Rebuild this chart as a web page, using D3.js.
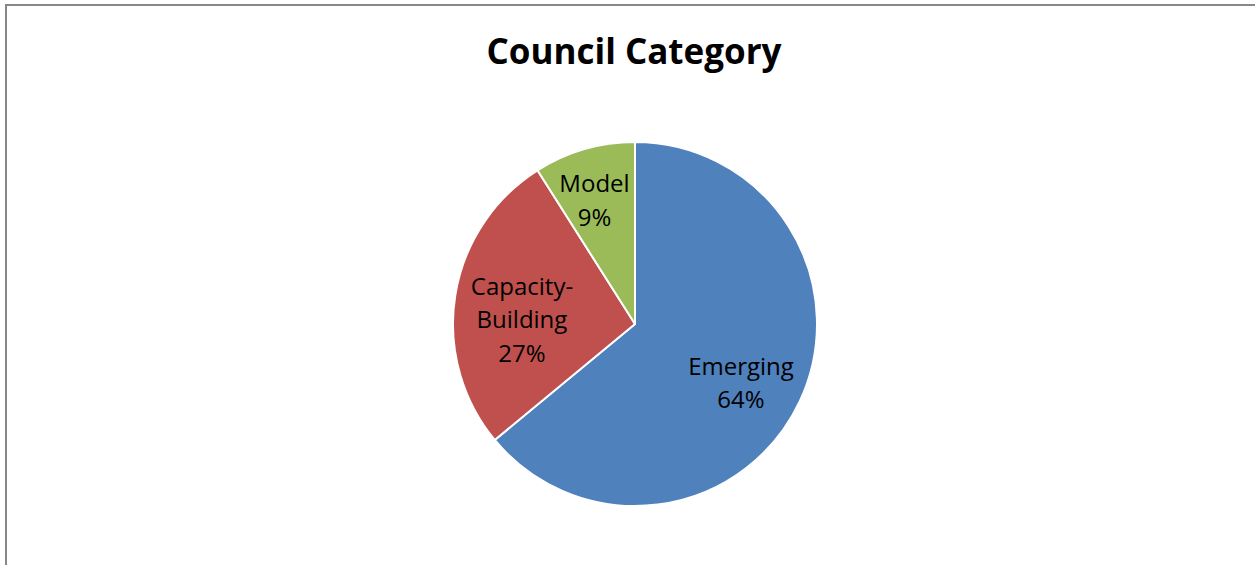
<!DOCTYPE html>
<html>
<head>
<meta charset="utf-8">
<script src="https://cdn.jsdelivr.net/npm/d3@7"></script>
<style>
  html, body { margin: 0; padding: 0; background: #fff; }
  svg { display: block; }
</style>
</head>
<body>
<svg id="chart" width="1255" height="565"></svg>
<script>
// Council category shares (percent)
const categories = ["Emerging", "Capacity-Building", "Model"];
const values = [64, 27, 9];
const labelLines = [["Emerging"], ["Capacity-", "Building"], ["Model"]];
const colors = ["#4F81BD", "#C0504D", "#9BBB59"];
const title = "Council Category";

// small per-label nudges from the slice centroid (px)
const labelNudge = [[-2.7, 7.9], [5.6, 14.3], [-7, -8.2]];

const W = 1255, H = 565;
const svg = d3.select("#chart");
const fontFamily = "'Open Sans', Lato, sans-serif";

// chart frame (top and left edges visible)
svg.append("line").attr("x1", 5).attr("y1", 5).attr("x2", W).attr("y2", 5)
  .attr("stroke", "#888").attr("stroke-width", 2);
svg.append("line").attr("x1", 6).attr("y1", 4).attr("x2", 6).attr("y2", H)
  .attr("stroke", "#888").attr("stroke-width", 2);

svg.append("text")
  .attr("x", 634).attr("y", 64)
  .attr("text-anchor", "middle")
  .attr("font-family", fontFamily)
  .attr("font-weight", "bold")
  .attr("font-size", 35)
  .attr("fill", "#000")
  .text(title);

const cx = 635, cy = 324, r = 182;
const data = categories.map((c, i) => ({ name: c, value: values[i], lines: labelLines[i], color: colors[i], nudge: labelNudge[i] }));

const pie = d3.pie().value(d => d.value).sort(null);
const arc = d3.arc().innerRadius(0).outerRadius(r);
const labelArc = d3.arc().innerRadius(r * 0.66).outerRadius(r * 0.66);

const g = svg.append("g").attr("transform", `translate(${cx},${cy})`);
const arcs = pie(data);

g.selectAll("path.slice").data(arcs).join("path")
  .attr("class", "slice")
  .attr("d", arc)
  .attr("fill", d => d.data.color)
  .attr("stroke", "#fff")
  .attr("stroke-width", 2)
  .attr("stroke-linejoin", "round");

const lineH = 33.5;
const labels = g.selectAll("text.lbl").data(arcs).join("text")
  .attr("class", "lbl")
  .attr("text-anchor", "middle")
  .attr("font-family", fontFamily)
  .attr("font-size", 24)
  .attr("fill", "#000")
  .attr("transform", d => {
    const [x, y] = labelArc.centroid(d);
    return `translate(${x + d.data.nudge[0]},${y + d.data.nudge[1]})`;
  });

labels.each(function(d) {
  const t = d3.select(this);
  const lines = d.data.lines.concat([d3.format(".0f")(d.data.value) + "%"]);
  const n = lines.length;
  lines.forEach((ln, i) => {
    t.append("tspan")
      .attr("x", 0)
      .attr("y", (i - (n - 1) / 2) * lineH + 8.5)
      .text(ln);
  });
});
</script>
</body>
</html>
